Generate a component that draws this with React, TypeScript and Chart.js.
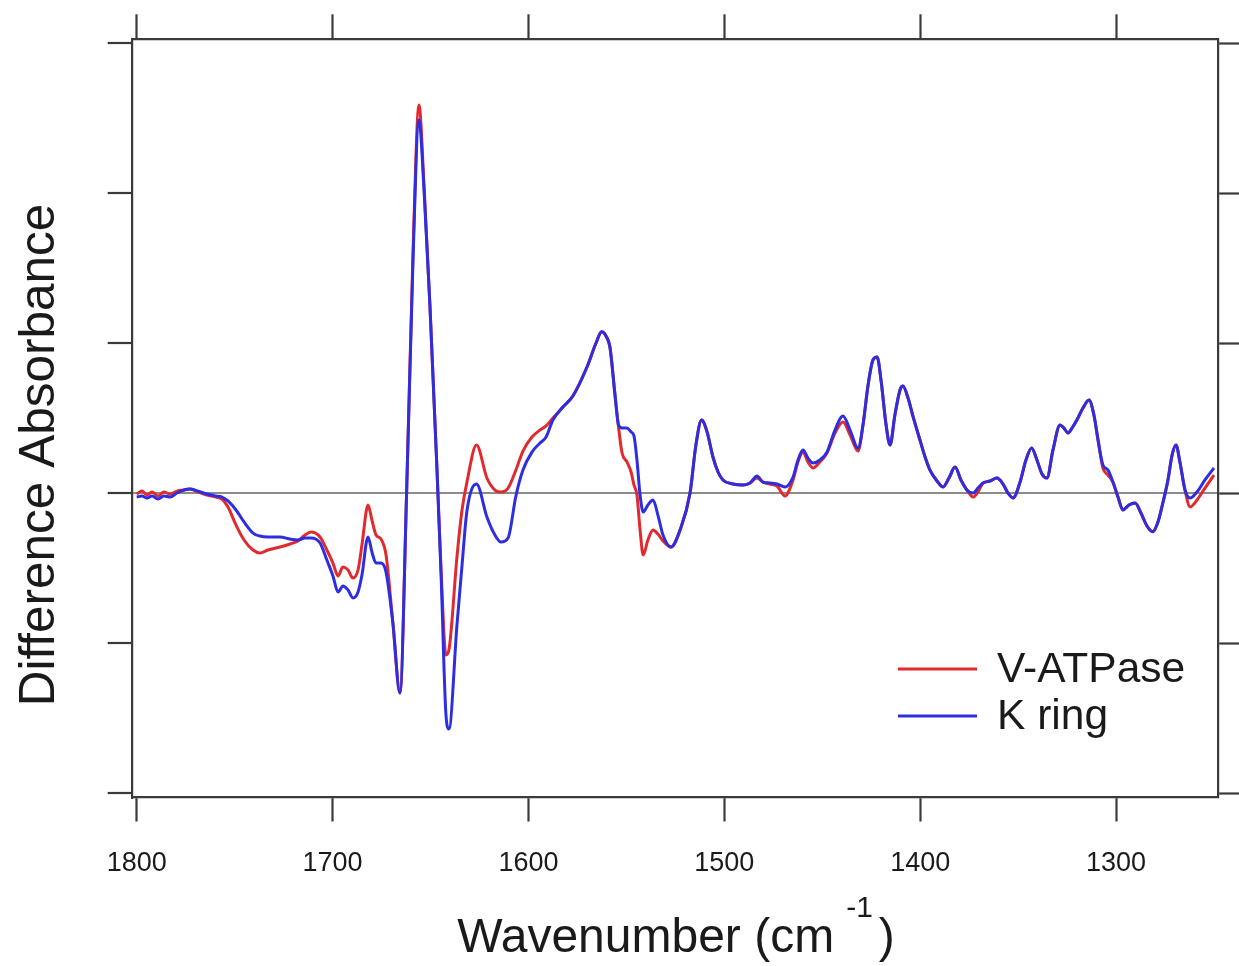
import React, { useEffect, useRef } from 'react';
import { Chart, registerables } from 'chart.js';

Chart.register(...registerables);

// Wavenumber (cm-1), shared by both spectra
const wavenumbers = [
  1800, 1797.3, 1794.7, 1792.2, 1789.1, 1786.1, 1783.0, 1779.4, 1775.9, 1772.8,
  1768.7, 1764.1, 1759.5, 1756.5, 1753.4, 1749.3, 1745.2, 1740.6, 1737.1, 1733.0,
  1726.8, 1721.7, 1717.7, 1714.1, 1711.0, 1706.4, 1702.9, 1699.8, 1697.2, 1694.7,
  1692.1, 1689.6, 1687.0, 1685.0, 1681.9, 1679.9, 1677.8, 1675.3, 1672.7, 1669.2,
  1665.6, 1662.2, 1658.9, 1655.9, 1653.3, 1650.3, 1646.7, 1644.6, 1642.1, 1640.6,
  1636.5, 1633.9, 1631.4, 1626.5, 1621.2, 1617.1, 1614.0, 1610.4,
  1606.4, 1602.8, 1598.2, 1594.1, 1591.0, 1587.5, 1582.4, 1577.3, 1570.1,
  1565.5, 1562.6, 1560.4, 1558.4, 1555.8, 1554.0, 1552.2, 1549.7, 1547.6, 1546.1, 1544.6, 1543.0, 1541.4,
  1539.0, 1536.4, 1533.9, 1531.3, 1527.2, 1522.6, 1517.5, 1514.5, 1511.6, 1508.8, 1505.8, 1503.2, 1500.7,
  1495.6, 1490.5, 1486.9, 1483.3, 1480.3, 1476.7, 1473.1, 1469.0, 1464.9, 1462.4, 1459.8,
  1457.3, 1454.7, 1451.2, 1447.6, 1443.5, 1439.4, 1435.8, 1431.7,
  1429.2, 1426.6, 1424.1, 1422.0, 1420.0, 1417.4, 1415.4, 1412.9, 1410.3, 1408.8, 1406.2, 1403.7, 1400.1, 1397.5, 1395.0,
  1391.4, 1388.4, 1385.3, 1382.2, 1379.2, 1376.1, 1373.0, 1370.5, 1367.9, 1364.4, 1360.8, 1357.7, 1355.2, 1352.6,
  1349.0, 1346.0, 1343.1, 1340.4, 1337.8, 1335.3, 1332.2, 1328.6, 1326.6, 1324.5, 1322.5, 1320.0, 1316.9, 1313.8, 1311.3, 1309.2,
  1306.7, 1304.1, 1301.6, 1299.0, 1296.5, 1293.4, 1290.3, 1287.3, 1284.2, 1281.3, 1278.6, 1276.0, 1273.5, 1271.4, 1269.4, 1267.4, 1264.8, 1262.2, 1258.7, 1254.6, 1250.0,
];

// Difference absorbance, V-ATPase (red)
const vAtpase = [
  -0.007, 0.013, -0.013, 0.007, -0.020, 0.007, -0.007, 0.013, 0.020, 0.027,
  0.007, -0.013, -0.027, -0.040, -0.093, -0.213, -0.313, -0.380, -0.400, -0.380,
  -0.360, -0.340, -0.320, -0.280, -0.260, -0.293, -0.380, -0.467, -0.553, -0.493,
  -0.513, -0.567, -0.513, -0.347, -0.080, -0.180, -0.280, -0.307, -0.413, -0.867,
  -1.333, 0, 1.620, 2.587, 2.053, 1.253, 0.160, -0.513, -1.080, -1.047,
  -0.427, -0.113, 0.073, 0.320, 0.100, 0.020, 0.007, 0.033,
  0.153, 0.280, 0.373, 0.420, 0.447, 0.500, 0.573, 0.647, 0.840,
  1.000, 1.075, 1.047, 0.973, 0.653, 0.440, 0.267, 0.207, 0.140, 0.053, -0.013, -0.247, -0.413,
  -0.313, -0.247, -0.273, -0.320, -0.360, -0.247, 0, 0.320, 0.487, 0.407, 0.240, 0.140, 0.087,
  0.060, 0.053, 0.067, 0.100, 0.073, 0.060, 0.047, -0.020, 0.087, 0.207, 0.273,
  0.207, 0.167, 0.207, 0.267, 0.400, 0.473, 0.387, 0.280,
  0.453, 0.720, 0.887, 0.907, 0.753, 0.453, 0.320, 0.520, 0.687, 0.713, 0.633, 0.513, 0.353, 0.240, 0.153,
  0.080, 0.040, 0.100, 0.173, 0.087, 0.020, -0.027, 0.007, 0.067, 0.080, 0.100, 0.060, 0, -0.033,
  0.073, 0.220, 0.300, 0.220, 0.127, 0.100, 0.287, 0.453, 0.433, 0.400, 0.433, 0.487, 0.567, 0.620, 0.520, 0.353,
  0.167, 0.120, 0.073, -0.027, -0.113, -0.080, -0.067, -0.133, -0.220, -0.258, -0.193, -0.060, 0.087, 0.253, 0.320, 0.207, 0.020, -0.093, -0.047, 0.033, 0.120,
];

// Difference absorbance, K ring (blue)
const kRing = [
  -0.027, -0.020, -0.033, -0.020, -0.040, -0.020, -0.027, 0, 0.020, 0.027,
  0.013, -0.007, -0.020, -0.027, -0.053, -0.113, -0.193, -0.267, -0.287, -0.293,
  -0.293, -0.307, -0.313, -0.300, -0.300, -0.333, -0.447, -0.553, -0.660, -0.620,
  -0.647, -0.700, -0.660, -0.547, -0.293, -0.393, -0.467, -0.467, -0.527, -0.867,
  -1.333, 0, 1.567, 2.487, 2.020, 1.253, 0.160, -0.547, -1.480, -1.573,
  -0.880, -0.480, -0.120, 0.060, -0.160, -0.280, -0.327, -0.300,
  -0.020, 0.153, 0.273, 0.333, 0.373, 0.487, 0.573, 0.647, 0.840,
  1.000, 1.075, 1.047, 0.973, 0.653, 0.453, 0.433, 0.433, 0.407, 0.380, 0.220, -0.013, -0.127,
  -0.080, -0.047, -0.147, -0.280, -0.360, -0.247, 0, 0.320, 0.487, 0.407, 0.240, 0.140, 0.087,
  0.060, 0.053, 0.067, 0.113, 0.073, 0.067, 0.060, 0.040, 0.107, 0.220, 0.287,
  0.233, 0.200, 0.220, 0.273, 0.420, 0.513, 0.420, 0.300,
  0.453, 0.720, 0.887, 0.907, 0.753, 0.453, 0.320, 0.520, 0.687, 0.713, 0.633, 0.513, 0.353, 0.240, 0.153,
  0.080, 0.040, 0.100, 0.173, 0.087, 0.020, 0, 0.033, 0.067, 0.080, 0.100, 0.060, 0, -0.033,
  0.073, 0.220, 0.300, 0.220, 0.127, 0.100, 0.287, 0.453, 0.433, 0.400, 0.433, 0.487, 0.567, 0.620, 0.520, 0.353,
  0.187, 0.153, 0.073, -0.027, -0.113, -0.080, -0.067, -0.133, -0.220, -0.258, -0.193, -0.060, 0.087, 0.253, 0.320, 0.207, 0.020, -0.033, 0.007, 0.087, 0.167,
];

const xTickValues = [1800, 1700, 1600, 1500, 1400, 1300];
const yTickValues = [-2, -1, 0, 1, 2, 3];
const seriesNames = ['V-ATPase', 'K ring'];
const xTitleMain = 'Wavenumber (cm';
const xTitleSup = '-1';
const xTitleEnd = ')';
const yTitle = 'Difference Absorbance';

const RED = '#e02a2e';
const BLUE = '#2e2ee0';
const AXIS = '#3a3a3a';
const FONT = '"Liberation Sans", Arial, Helvetica, sans-serif';

const X_MIN = 1247.8;
const X_MAX = 1802.55;
const Y_MIN = -2.03;
const Y_MAX = 3.025;

const textPlugin = {
  id: 'figureText',
  afterDraw(chart: any) {
    const ctx = chart.ctx as CanvasRenderingContext2D;
    ctx.save();
    ctx.fillStyle = '#1a1a1a';

    // x title with superscript
    ctx.font = `48px ${FONT}`;
    const wMain = ctx.measureText(xTitleMain).width;
    const wEnd = ctx.measureText(xTitleEnd).width;
    ctx.font = `30px ${FONT}`;
    const wSup = ctx.measureText(xTitleSup).width;
    const gap1 = 12;
    const gap2 = 6;
    const total = wMain + gap1 + wSup + gap2 + wEnd;
    const cx = (chart.chartArea.left + chart.chartArea.right) / 2;
    const x0 = cx - total / 2 + 1;
    ctx.textAlign = 'left';
    ctx.textBaseline = 'alphabetic';
    ctx.font = `48px ${FONT}`;
    ctx.fillText(xTitleMain, x0, 952);
    ctx.font = `30px ${FONT}`;
    ctx.fillText(xTitleSup, x0 + wMain + gap1, 917);
    ctx.font = `48px ${FONT}`;
    ctx.fillText(xTitleEnd, x0 + wMain + gap1 + wSup + gap2, 952);

    // y title
    ctx.save();
    ctx.translate(40, 455);
    ctx.rotate(-Math.PI / 2);
    ctx.textAlign = 'center';
    ctx.textBaseline = 'middle';
    ctx.font = `49.5px ${FONT}`;
    ctx.fillText(yTitle, 0, 0);
    ctx.restore();

    // legend
    const colors = [RED, BLUE];
    const rows = [669, 716];
    ctx.font = `42.5px ${FONT}`;
    ctx.textBaseline = 'middle';
    ctx.textAlign = 'left';
    seriesNames.forEach((name, i) => {
      ctx.strokeStyle = colors[i];
      ctx.lineWidth = 2.8;
      ctx.beginPath();
      ctx.moveTo(898, rows[i]);
      ctx.lineTo(977, rows[i]);
      ctx.stroke();
      ctx.fillStyle = '#1a1a1a';
      ctx.fillText(name, 997, rows[i] + 1);
    });
    ctx.restore();
  },
};

export default function App() {
  const ref = useRef<HTMLCanvasElement>(null);

  useEffect(() => {
    const canvas = ref.current;
    if (!canvas) return;
    const setXTicks = (s: any) => {
      s.ticks = xTickValues.map((v) => ({ value: v }));
    };
    const setYTicks = (s: any) => {
      s.ticks = yTickValues.map((v) => ({ value: v }));
    };
    const border = { display: true, color: AXIS, width: 2.2 };
    const chart = new Chart(canvas, {
      type: 'line',
      data: {
        datasets: [
          {
            label: seriesNames[1],
            data: wavenumbers.map((w, i) => ({ x: w, y: kRing[i] })),
            borderColor: BLUE,
            borderWidth: 3,
            pointRadius: 0,
            cubicInterpolationMode: 'monotone',
            fill: false,
            order: 1,
          },
          {
            label: seriesNames[0],
            data: wavenumbers.map((w, i) => ({ x: w, y: vAtpase[i] })),
            borderColor: RED,
            borderWidth: 3,
            pointRadius: 0,
            cubicInterpolationMode: 'monotone',
            fill: false,
            order: 2,
          },
        ],
      },
      options: {
        responsive: false,
        animation: false,
        layout: { padding: 0 },
        plugins: { legend: { display: false }, tooltip: { enabled: false } },
        scales: {
          x: {
            type: 'linear',
            position: 'bottom',
            reverse: true,
            min: X_MIN,
            max: X_MAX,
            afterBuildTicks: setXTicks,
            afterFit: (s: any) => {
              s.height = 168.5;
            },
            grid: { drawOnChartArea: false, drawTicks: true, tickLength: 24, tickColor: AXIS, tickWidth: 2.2 },
            border,
            ticks: {
              font: { family: FONT, size: 27 },
              color: '#1a1a1a',
              padding: 26,
              maxRotation: 0,
              autoSkip: false,
              callback: (v: any) => String(v),
            },
          },
          x2: {
            type: 'linear',
            position: 'top',
            reverse: true,
            min: X_MIN,
            max: X_MAX,
            afterBuildTicks: setXTicks,
            afterFit: (s: any) => {
              s.height = 39.3;
            },
            grid: { drawOnChartArea: false, drawTicks: true, tickLength: 25, tickColor: AXIS, tickWidth: 2.2 },
            border,
            ticks: { display: false },
          },
          y: {
            type: 'linear',
            position: 'left',
            min: Y_MIN,
            max: Y_MAX,
            afterBuildTicks: setYTicks,
            afterFit: (s: any) => {
              s.width = 131.7;
            },
            grid: {
              drawOnChartArea: true,
              drawTicks: true,
              tickLength: 24,
              tickColor: AXIS,
              tickWidth: 2.2,
              lineWidth: 2,
              color: (c: any) => (c.tick && c.tick.value === 0 ? '#8c8c8c' : 'rgba(0,0,0,0)'),
            },
            border,
            ticks: { display: false },
          },
          y2: {
            type: 'linear',
            position: 'right',
            min: Y_MIN,
            max: Y_MAX,
            afterBuildTicks: setYTicks,
            afterFit: (s: any) => {
              s.width = 20.7;
            },
            grid: { drawOnChartArea: false, drawTicks: true, tickLength: 21, tickColor: AXIS, tickWidth: 2.2 },
            border,
            ticks: { display: false },
          },
        },
      },
      plugins: [textPlugin],
    } as any);
    return () => chart.destroy();
  }, []);

  return (
    <div style={{ position: 'fixed', left: 0, top: 0, width: 1239, height: 966, background: '#ffffff' }}>
      <canvas ref={ref} width={1239} height={966} style={{ display: 'block' }} />
    </div>
  );
}
